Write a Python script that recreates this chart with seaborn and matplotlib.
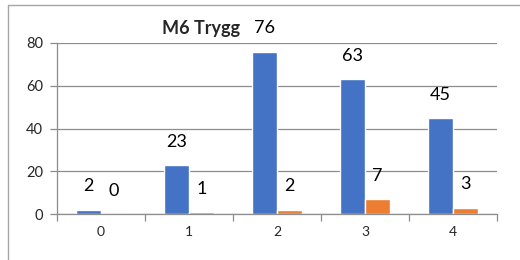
import matplotlib
matplotlib.use('Agg')
import matplotlib.pyplot as plt
import pandas as pd
import seaborn as sns
from matplotlib.lines import Line2D

sns.set_theme(style='white')
plt.rcParams['font.family'] = ['Lato', 'DejaVu Sans']

# data
categories = ['0', '1', '2', '3', '4']
series_a = [2, 23, 76, 63, 45]
series_b = [0, 1, 2, 7, 3]
series_names = ['A', 'B']
colors = ['#4472C4', '#ED7D31']
y_ticks = [0, 20, 40, 60, 80]

df = pd.DataFrame({
    'cat': categories * 2,
    'value': series_a + series_b,
    'series': [series_names[0]] * 5 + [series_names[1]] * 5,
})

fig = plt.figure(figsize=(5.2, 2.6), dpi=100)
ax = fig.add_axes([57 / 520, 1 - 214 / 260, (497 - 57) / 520, (214 - 43) / 260])

sns.barplot(data=df, x='cat', y='value', hue='series', palette=colors,
            width=0.57, saturation=1, legend=False, ax=ax)

for cont in ax.containers:
    ax.bar_label(cont, padding=11, fontsize=13, color='black')

grid_col = '#8c8c8c'
ax.set_xlim(-0.5, 4.5)
ax.set_ylim(0, 80)
ax.set_yticks(y_ticks)
ax.set_xlabel('')
ax.set_ylabel('')
ax.yaxis.grid(True, color=grid_col, lw=0.9)
ax.set_axisbelow(True)
for s in ['top', 'right']:
    ax.spines[s].set_visible(False)
for s in ['left', 'bottom']:
    ax.spines[s].set_color(grid_col)
    ax.spines[s].set_linewidth(0.9)

# tick marks between groups, labels under each group
ax.set_xticks([i - 0.5 for i in range(6)], minor=True)
ax.tick_params(axis='x', which='major', length=0, pad=9, labelsize=10)
ax.tick_params(axis='x', which='minor', length=5, color=grid_col, width=0.9,
               direction='out', bottom=True)
ax.tick_params(axis='y', length=5, color=grid_col, width=0.9, left=True,
               labelsize=10.5, pad=5)

fig.text(201 / 520, 1 - 28 / 260, 'M6 Trygg', fontsize=13, fontweight='bold',
         ha='center', va='center')

# chart frame
frame_col = '#a6a6a6'
fig.add_artist(Line2D([8 / 520, 1], [1 - 5 / 260, 1 - 5 / 260], color=frame_col, lw=1))
fig.add_artist(Line2D([8 / 520, 8 / 520], [0, 1 - 5 / 260], color=frame_col, lw=1))

fig.savefig('out.png', dpi=100)
